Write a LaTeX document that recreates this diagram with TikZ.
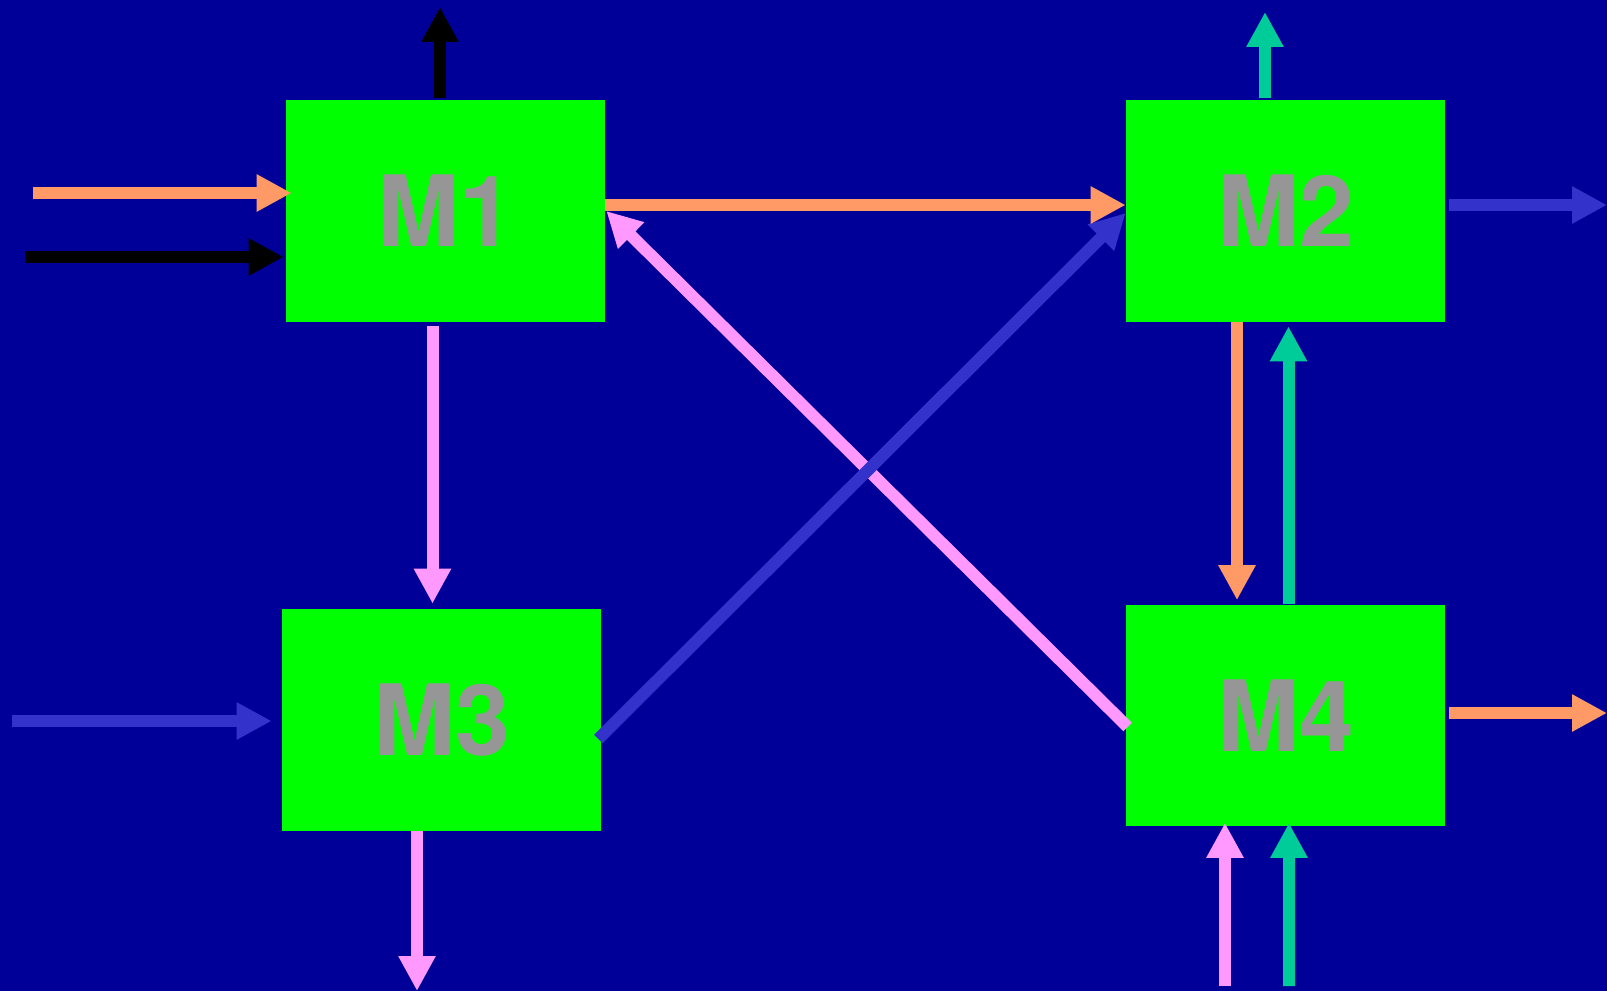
\documentclass[tikz,border=0pt]{standalone}
\usepackage{fontspec}
\newfontfamily\lblfont{TeX Gyre Heros}
\usetikzlibrary{arrows.meta,calc}
\definecolor{bg}{HTML}{000099}
\definecolor{boxgreen}{HTML}{00FF00}
\definecolor{txtgray}{HTML}{969696}
\definecolor{corange}{HTML}{FF9966}
\definecolor{cpink}{HTML}{FF99FF}
\definecolor{cblue}{HTML}{3333CC}
\definecolor{cteal}{HTML}{00CC99}
\begin{document}
\begin{tikzpicture}[x=0.02cm,y=-0.02cm,
  module/.style={rectangle, fill=boxgreen, inner sep=0pt, minimum width=6.38cm, minimum height=4.44cm,
    font=\lblfont\bfseries\fontsize{56}{60}\selectfont, text=txtgray},
  flow/.style={line width=0.24cm, -{Triangle[length=0.7cm,width=0.7cm]}},
]
\fill[bg] (0,0) rectangle (1607,991);
\useasboundingbox (0,0) rectangle (1607,991);

\node[module] (M1) at (445.5,211) {M1};
\node[module] (M2) at (1285.5,211) {M2};
\node[module] (M3) at (441.5,720) {M3};
\node[module] (M4) at (1285.5,715.5) {M4};

% free ends
\coordinate (inO1) at (33,193);
\coordinate (inK1) at (24.5,257);
\coordinate (outK1) at (440,7);
\coordinate (outP3) at (417,991);
\coordinate (inB3) at (12,721);
\coordinate (outT2) at (1265,12);
\coordinate (outB2) at (1607,205);
\coordinate (outO4) at (1607,713);
\coordinate (inP4) at (1225,986);
\coordinate (inT4) at (1289,986);

% inputs / outputs of M1
\draw[flow, corange] (inO1) -- ($(M1.west)+(6,-18)$);
\draw[flow, black] (inK1) -- ($(M1.west)+(-2,46)$);
\draw[flow, black] ($(M1.north)+(-5.5,-2)$) -- (outK1);

% M1 -> M3
\draw[flow, cpink] ($(M1.south)+(-13,4)$) -- ($(M3.north)+(-9,-5)$);
% M3 out / in
\draw[flow, cpink] ($(M3.south)+(-24.5,0)$) -- (outP3);
\draw[flow, cblue] (inB3) -- ($(M3.west)+(-10,1)$);

% diagonals
\draw[flow, cpink] ($(M4.west)+(2,11.5)$) -- ($(M1.east)+(1,0)$);
\draw[flow, cblue] ($(M3.east)+(-3,19)$) -- ($(M2.west)+(0,2)$);

% M1 -> M2
\draw[flow, corange] ($(M1.east)+(0,-6)$) -- ($(M2.west)+(0,-6)$);

% M2 outputs
\draw[flow, cteal] ($(M2.north)+(-20.5,-2)$) -- (outT2);
\draw[flow, cblue] ($(M2.east)+(4,-6)$) -- (outB2);

% M2 <-> M4
\draw[flow, corange] ($(M2.south)+(-48.5,0)$) -- ($(M4.north)+(-48.5,-4)$);
\draw[flow, cteal] ($(M4.north)+(3,0)$) -- ($(M2.south)+(3,4)$);

% M4 output / inputs
\draw[flow, corange] ($(M4.east)+(4,-2.5)$) -- (outO4);
\draw[flow, cpink] (inP4) -- ($(M4.south)+(-60.5,-4)$);
\draw[flow, cteal] (inT4) -- ($(M4.south)+(3.5,-4)$);
\end{tikzpicture}
\end{document}
